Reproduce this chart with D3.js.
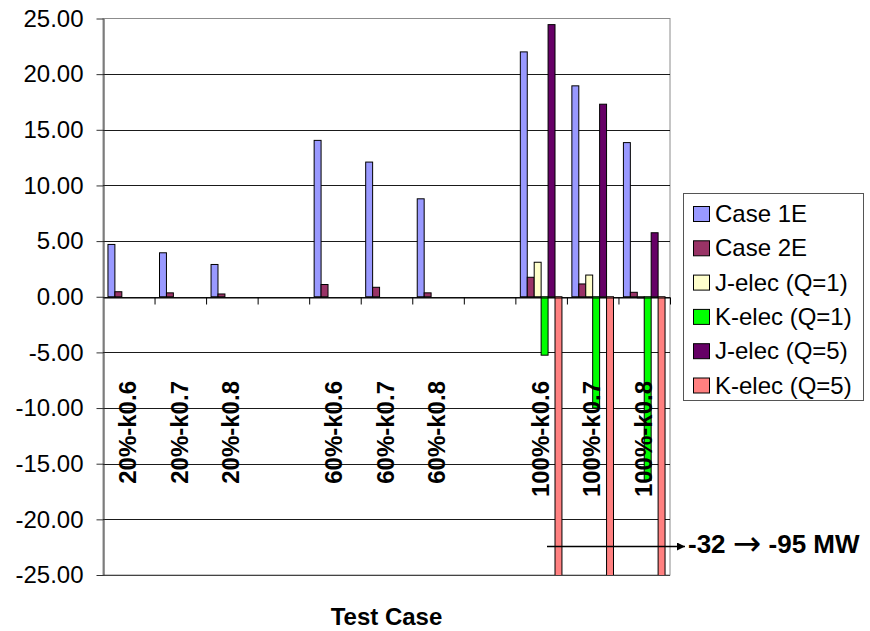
<!DOCTYPE html>
<html>
<head>
<meta charset="utf-8">
<script src="https://cdn.jsdelivr.net/npm/d3@7"></script>
<style>
  html, body { margin: 0; padding: 0; background: #fff; }
  svg { display: block; font-family: "Liberation Sans", Arial, sans-serif; }
</style>
</head>
<body>
<svg id="chart" width="870" height="631"></svg>
<script>
// ---- data ----
const categories = ["20%-k0.6", "20%-k0.7", "20%-k0.8", "", "60%-k0.6", "60%-k0.7", "60%-k0.8", "", "100%-k0.6", "100%-k0.7", "100%-k0.8"];
const seriesNames = ["Case 1E", "Case 2E", "J-elec (Q=1)", "K-elec (Q=1)", "J-elec (Q=5)", "K-elec (Q=5)"];
const case1E = [4.7, 3.95, 2.9, null, 14.05, 12.1, 8.8, null, 22.0, 18.95, 13.85];
const case2E = [0.45, 0.35, 0.25, null, 1.1, 0.85, 0.35, null, 1.75, 1.15, 0.4];
const jElecQ1 = [null, null, null, null, null, null, null, null, 3.1, 1.95, -0.1];
const kElecQ1 = [null, null, null, null, null, null, null, null, -5.25, -10.0, -16.5];
const jElecQ5 = [null, null, null, null, null, null, null, null, 24.45, 17.3, 5.75];
const kElecQ5 = [null, null, null, null, null, null, null, null, -32, -63, -95];
const yTicks = [-25, -20, -15, -10, -5, 0, 5, 10, 15, 20, 25];
const seriesColors = ["#9999FF", "#993366", "#FFFFCC", "#00FF00", "#660066", "#FF8080"];
const xTitle = "Test Case";
const annotationParts = ["-32 ", "\u2192", " -95 MW"];

const seriesValues = [case1E, case2E, jElecQ1, kElecQ1, jElecQ5, kElecQ5];

// ---- layout ----
const plot = { left: 103, right: 670, top: 18.5, bottom: 575 };
const svg = d3.select("#chart");

const y = d3.scaleLinear().domain([-25, 25]).range([plot.bottom, plot.top]);
const x0 = d3.scaleBand().domain(d3.range(categories.length)).range([plot.left, plot.right]).padding(0);
const x1 = d3.scaleBand().domain(d3.range(seriesNames.length)).range([0, x0.bandwidth()])
  .paddingInner(0).paddingOuter(0.715);
const xEdge = d3.scaleLinear().domain([0, categories.length]).range([plot.left, plot.right]);

// clip
svg.append("defs").append("clipPath").attr("id", "plotclip")
  .append("rect").attr("x", plot.left).attr("y", plot.top)
  .attr("width", plot.right - plot.left).attr("height", plot.bottom - plot.top);

// plot border (light)
svg.append("rect")
  .attr("x", plot.left).attr("y", plot.top)
  .attr("width", plot.right - plot.left).attr("height", plot.bottom - plot.top)
  .attr("fill", "none").attr("stroke", "#8c8c8c").attr("stroke-width", 1);

// gridlines
svg.append("g").selectAll("line")
  .data(yTicks.filter(d => d !== 25))
  .join("line")
  .attr("x1", plot.left).attr("x2", plot.right)
  .attr("y1", d => Math.round(y(d)) + 0.5).attr("y2", d => Math.round(y(d)) + 0.5)
  .attr("stroke", d => d === -25 ? "#444" : "#1a1a1a").attr("stroke-width", 1);

// bars
const barData = [];
seriesValues.forEach((vals, s) => {
  vals.forEach((v, c) => {
    if (v !== null) barData.push({ s, c, v });
  });
});
svg.append("g").attr("clip-path", "url(#plotclip)")
  .selectAll("rect").data(barData).join("rect")
  .attr("x", d => x0(d.c) + x1(d.s))
  .attr("width", x1.bandwidth())
  .attr("y", d => y(Math.max(0, d.v)))
  .attr("height", d => Math.abs(y(d.v) - y(0)))
  .attr("fill", d => seriesColors[d.s])
  .attr("stroke", "#000").attr("stroke-width", 1);

// zero axis with ticks at category boundaries
const xAxis = d3.axisBottom(xEdge)
  .tickValues(d3.range(1, categories.length + 1))
  .tickFormat("")
  .tickSize(7)
  .tickSizeOuter(0);
const gx = svg.append("g").attr("transform", `translate(0,${Math.round(y(0)) + 0.5})`).call(xAxis);
gx.select(".domain").attr("stroke", "#000");
gx.selectAll(".tick line").attr("stroke", "#000");

// y axis
const yAxis = d3.axisLeft(y).tickValues(yTicks).tickFormat(d => d.toFixed(2))
  .tickSize(7).tickPadding(13).tickSizeOuter(0);
const gy = svg.append("g").attr("transform", `translate(${plot.left + 0.5},0)`).call(yAxis);
gy.select(".domain").attr("stroke", "#333");
gy.selectAll(".tick line").attr("stroke", "#333");
gy.selectAll(".tick text").attr("font-size", 24).attr("fill", "#000")
  .attr("font-family", "'Liberation Sans', Arial, sans-serif");

// category labels (rotated, inside plot)
svg.append("g").selectAll("text")
  .data(categories.map((name, i) => ({ name, i })).filter(d => d.name !== ""))
  .join("text")
  .attr("transform", d => `translate(${x0(d.i) + x0.bandwidth() / 2 - 1},381) rotate(-90)`)
  .attr("text-anchor", "end")
  .attr("dy", "0.35em")
  .attr("font-size", 24).attr("font-weight", "bold").attr("fill", "#000")
  .text(d => d.name);

// x title
svg.append("text")
  .attr("x", (plot.left + plot.right) / 2).attr("y", 625)
  .attr("text-anchor", "middle")
  .attr("font-size", 24).attr("font-weight", "bold")
  .text(xTitle);

// legend
const legend = svg.append("g");
legend.append("rect")
  .attr("x", 683.5).attr("y", 193.5).attr("width", 180).attr("height", 207)
  .attr("fill", "#fff").attr("stroke", "#555").attr("stroke-width", 1);
const legRow = legend.selectAll("g.item").data(seriesNames).join("g")
  .attr("class", "item")
  .attr("transform", (d, i) => `translate(0,${213.5 + i * 34.3})`);
legRow.append("rect")
  .attr("x", 693.5).attr("y", -7).attr("width", 16).attr("height", 15)
  .attr("fill", (d, i) => seriesColors[i]).attr("stroke", "#000").attr("stroke-width", 1);
legRow.append("text")
  .attr("x", 715).attr("y", 0).attr("dy", "0.36em")
  .attr("font-size", 24).attr("fill", "#000")
  .text(d => d);

// annotation arrow
svg.append("defs").append("marker")
  .attr("id", "arrowhead").attr("viewBox", "0 0 10 10")
  .attr("refX", 10).attr("refY", 5)
  .attr("markerWidth", 8).attr("markerHeight", 8)
  .attr("markerUnits", "userSpaceOnUse")
  .attr("orient", "auto")
  .append("path").attr("d", "M0,0 L10,5 L0,10 z").attr("fill", "#000");
svg.append("line")
  .attr("x1", 547).attr("x2", 685).attr("y1", 546.5).attr("y2", 546.5)
  .attr("stroke", "#000").attr("stroke-width", 1.3)
  .attr("marker-end", "url(#arrowhead)");
const ann = svg.append("text")
  .attr("x", 688).attr("y", 553)
  .attr("font-size", 26).attr("font-weight", "bold")
  .attr("xml:space", "preserve")
  .style("white-space", "pre");
ann.append("tspan").text(annotationParts[0]);
ann.append("tspan").attr("font-family", "'DejaVu Sans', sans-serif").attr("font-weight", "normal")
  .attr("font-size", 34).attr("dy", 2).text(annotationParts[1]);
ann.append("tspan").attr("dy", -2).text(annotationParts[2]);
</script>
</body>
</html>
